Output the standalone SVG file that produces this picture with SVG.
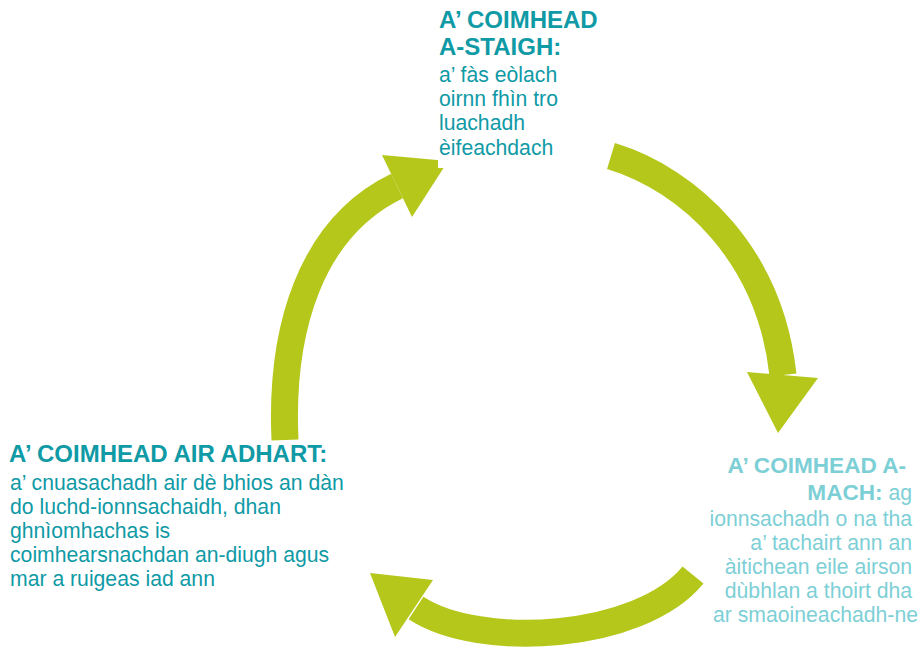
<svg xmlns="http://www.w3.org/2000/svg" width="921" height="648" viewBox="0 0 921 648">
  <style>
    .band { fill: none; stroke: #b4c71a; stroke-width: 27; stroke-linecap: butt; }
    .head { fill: #b4c71a; stroke: none; }
    .t { font-family: "Liberation Sans", Arial, sans-serif; font-size: 21.2px; }
    .b { font-weight: bold; font-size: 24px; }
    .bs { font-weight: bold; font-size: 22.6px; }
    .dark { fill: #0f9aa6; }
    .light { fill: #7dcfd6; }
  </style>
  <rect width="921" height="648" fill="#ffffff"/>
  <g id="connectors">
    <g id="arrow-top-to-right">
      <path class="band" d="M611,156 C690,180 770,255 783,375"/>
      <polygon class="head" points="747,372 818,378 778,433"/>
    </g>
    <g id="arrow-right-to-left">
      <path class="band" d="M693,575 C640,640 480,650 416,608"/>
      <polygon class="head" points="433,580 395,637 370,573"/>
    </g>
    <g id="arrow-left-to-top">
      <path class="band" d="M285,440 C280,330 310,228 397,186"/>
      <polygon class="head" points="382,155 412,217 448,161"/>
    </g>
  </g>
  <g id="node-top">
    <rect x="438" y="0" width="150" height="168" fill="#ffffff"/>
    <text class="t dark" x="439">
      <tspan class="b" x="439" y="28">A’ COIMHEAD</tspan>
      <tspan class="b" x="439" y="55">A-STAIGH:</tspan>
      <tspan x="439" y="82">a’ fàs eòlach</tspan>
      <tspan x="439" y="106">oirnn fhìn tro</tspan>
      <tspan x="439" y="130">luachadh</tspan>
      <tspan x="439" y="155">èifeachdach</tspan>
    </text>
  </g>
  <g id="node-left">
    <text class="t dark" x="10">
      <tspan class="b" x="9" y="462">A’ COIMHEAD AIR ADHART:</tspan>
      <tspan x="10" y="490">a’ cnuasachadh air dè bhios an dàn</tspan>
      <tspan x="10" y="514">do luchd-ionnsachaidh, dhan</tspan>
      <tspan x="10" y="538">ghnìomhachas is</tspan>
      <tspan x="10" y="562">coimhearsnachdan an-diugh agus</tspan>
      <tspan x="10" y="586">mar a ruigeas iad ann</tspan>
    </text>
  </g>
  <g id="node-right">
    <text class="t light" text-anchor="end">
      <tspan class="bs" x="912" y="473">A’ COIMHEAD A-</tspan>
      <tspan x="918" y="500"><tspan class="bs">MACH:</tspan> ag</tspan>
      <tspan x="918" y="526">ionnsachadh o na tha</tspan>
      <tspan x="918" y="550">a’ tachairt ann an</tspan>
      <tspan x="918" y="574">àitichean eile airson</tspan>
      <tspan x="918" y="598">dùbhlan a thoirt dha</tspan>
      <tspan x="918" y="622">ar smaoineachadh-ne</tspan>
    </text>
  </g>
</svg>
